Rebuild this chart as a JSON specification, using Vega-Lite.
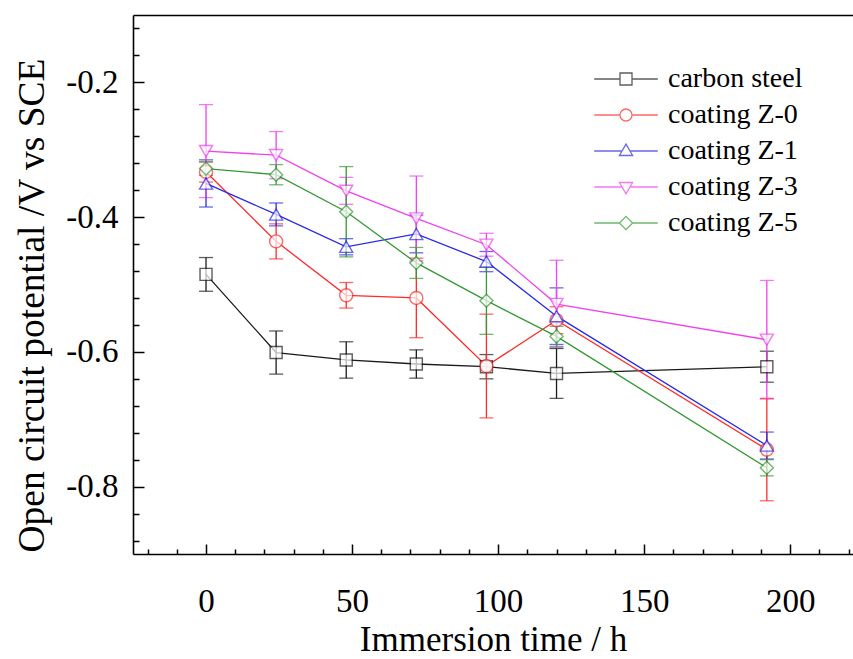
{
  "$schema": "https://vega.github.io/schema/vega-lite/v6.json",
  "width": 720,
  "height": 539,
  "autosize": {"type": "none"},
  "padding": {"left": 133, "top": 15, "right": 0, "bottom": 105},
  "background": "white",
  "config": {
    "view": {"stroke": null},
    "font": "Liberation Serif",
    "axis": {"grid": false, "domainColor": "black", "tickColor": "black", "labelColor": "black", "titleColor": "black", "domainWidth": 1.6, "tickWidth": 1.5, "labelFont": "Liberation Serif", "titleFont": "Liberation Serif", "labelFontSize": 33, "titleFontSize": 35, "titleFontWeight": "normal"}
  },
  "data": {"values": [
    {"series": "carbon steel", "t": 0, "v": -0.485, "e": 0.025},
    {"series": "carbon steel", "t": 24, "v": -0.601, "e": 0.032},
    {"series": "carbon steel", "t": 48, "v": -0.612, "e": 0.027},
    {"series": "carbon steel", "t": 72, "v": -0.618, "e": 0.021},
    {"series": "carbon steel", "t": 96, "v": -0.622, "e": 0.018},
    {"series": "carbon steel", "t": 120, "v": -0.632, "e": 0.037},
    {"series": "carbon steel", "t": 192, "v": -0.622, "e": 0.023},
    {"series": "coating Z-0", "t": 0, "v": -0.333, "e": 0.015},
    {"series": "coating Z-0", "t": 24, "v": -0.436, "e": 0.026},
    {"series": "coating Z-0", "t": 48, "v": -0.516, "e": 0.019},
    {"series": "coating Z-0", "t": 72, "v": -0.520, "e": 0.059},
    {"series": "coating Z-0", "t": 96, "v": -0.621, "e": 0.077},
    {"series": "coating Z-0", "t": 120, "v": -0.553, "e": 0.02},
    {"series": "coating Z-0", "t": 192, "v": -0.745, "e": 0.076},
    {"series": "coating Z-1", "t": 0, "v": -0.350, "e": 0.035},
    {"series": "coating Z-1", "t": 24, "v": -0.396, "e": 0.017},
    {"series": "coating Z-1", "t": 48, "v": -0.444, "e": 0.012},
    {"series": "coating Z-1", "t": 72, "v": -0.425, "e": 0.028},
    {"series": "coating Z-1", "t": 96, "v": -0.466, "e": 0.015},
    {"series": "coating Z-1", "t": 120, "v": -0.547, "e": 0.042},
    {"series": "coating Z-1", "t": 192, "v": -0.739, "e": 0.02},
    {"series": "coating Z-3", "t": 0, "v": -0.302, "e": 0.069},
    {"series": "coating Z-3", "t": 24, "v": -0.308, "e": 0.035},
    {"series": "coating Z-3", "t": 48, "v": -0.361, "e": 0.02},
    {"series": "coating Z-3", "t": 72, "v": -0.402, "e": 0.063},
    {"series": "coating Z-3", "t": 96, "v": -0.441, "e": 0.017},
    {"series": "coating Z-3", "t": 120, "v": -0.529, "e": 0.065},
    {"series": "coating Z-3", "t": 192, "v": -0.582, "e": 0.088},
    {"series": "coating Z-5", "t": 0, "v": -0.328, "e": 0.01},
    {"series": "coating Z-5", "t": 24, "v": -0.337, "e": 0.015},
    {"series": "coating Z-5", "t": 48, "v": -0.392, "e": 0.067},
    {"series": "coating Z-5", "t": 72, "v": -0.468, "e": 0.023},
    {"series": "coating Z-5", "t": 96, "v": -0.524, "e": 0.05},
    {"series": "coating Z-5", "t": 120, "v": -0.577, "e": 0.015},
    {"series": "coating Z-5", "t": 192, "v": -0.772, "e": 0.012}
  ]},
  "resolve": {"axis": {"x": "independent", "y": "independent"}},
  "layer": [
    {
      "mark": {"type": "errorbar", "ticks": {"size": 14, "thickness": 1.3}, "thickness": 1.3},
      "encoding": {
        "x": {"field": "t", "type": "quantitative", "scale": {"domain": [-25, 221.5], "nice": false, "zero": false},
              "axis": {"orient": "bottom", "values": [0, 50, 100, 150, 200], "tickSize": -10, "labelPadding": 41, "title": "Immersion time / h", "titlePadding": 4, "labelFlush": false}},
        "y": {"field": "v", "type": "quantitative", "scale": {"domain": [-0.9, -0.1], "nice": false, "zero": false},
              "axis": {"orient": "left", "values": [-0.8, -0.6, -0.4, -0.2], "tickSize": -11, "labelPadding": 26, "labelExpr": "'-' + format(abs(datum.value), '.1f')", "title": "Open circuit potential /V vs SCE", "titleFontSize": 37.5, "titlePadding": 14, "titleY": 290, "labelFlush": false}},
        "yError": {"field": "e"},
        "color": {"field": "series", "type": "nominal", "legend": null,
                  "scale": {"range": ["#1a1a1a", "#ff2a2a", "#2a2ae6", "#f040f0", "#339933"]}}
      }
    },
    {
      "mark": {"type": "line", "strokeWidth": 1.3},
      "encoding": {
        "x": {"field": "t", "type": "quantitative", "axis": {"orient": "bottom", "values": [-20, -10, 10, 20, 30, 40, 60, 70, 80, 90, 110, 120, 130, 140, 160, 170, 180, 190, 210, 220], "tickSize": -5, "labels": false, "domain": false, "title": null}},
        "y": {"field": "v", "type": "quantitative", "axis": {"orient": "left", "values": [-0.88, -0.84, -0.76, -0.72, -0.68, -0.64, -0.56, -0.52, -0.48, -0.44, -0.36, -0.32, -0.28, -0.24, -0.16, -0.12], "tickSize": -6, "labels": false, "domain": false, "title": null}},
        "color": {"field": "series", "type": "nominal", "legend": null}
      }
    },
    {
      "transform": [{"filter": {"field": "series", "equal": "carbon steel"}}],
      "mark": {"type": "point", "shape": "square", "filled": true, "fill": "white", "stroke": "#1a1a1a", "strokeWidth": 1.4, "size": 144},
      "encoding": {
        "x": {"field": "t", "type": "quantitative", "axis": {"orient": "top", "ticks": false, "labels": false, "title": null}},
        "y": {"field": "v", "type": "quantitative", "axis": null}
      }
    },
    {
      "transform": [{"filter": {"field": "series", "equal": "coating Z-0"}}],
      "mark": {"type": "point", "shape": "circle", "filled": true, "fill": "white", "stroke": "#ff2a2a", "strokeWidth": 1.4, "size": 170},
      "encoding": {
        "x": {"field": "t", "type": "quantitative", "axis": null},
        "y": {"field": "v", "type": "quantitative", "axis": null}
      }
    },
    {
      "transform": [{"filter": {"field": "series", "equal": "coating Z-1"}}],
      "mark": {"type": "point", "shape": "triangle-up", "filled": true, "fill": "white", "stroke": "#2a2ae6", "strokeWidth": 1.4, "size": 170},
      "encoding": {
        "x": {"field": "t", "type": "quantitative", "axis": null},
        "y": {"field": "v", "type": "quantitative", "axis": null}
      }
    },
    {
      "transform": [{"filter": {"field": "series", "equal": "coating Z-3"}}],
      "mark": {"type": "point", "shape": "triangle-down", "filled": true, "fill": "white", "stroke": "#f040f0", "strokeWidth": 1.4, "size": 170},
      "encoding": {
        "x": {"field": "t", "type": "quantitative", "axis": null},
        "y": {"field": "v", "type": "quantitative", "axis": null}
      }
    },
    {
      "transform": [{"filter": {"field": "series", "equal": "coating Z-5"}}],
      "mark": {"type": "point", "shape": "diamond", "filled": true, "fill": "white", "stroke": "#339933", "strokeWidth": 1.4, "size": 170},
      "encoding": {
        "x": {"field": "t", "type": "quantitative", "axis": null},
        "y": {"field": "v", "type": "quantitative", "axis": null}
      }
    },
    {
      "transform": [{"filter": {"field": "t", "lt": -1000}}],
      "mark": {"type": "point", "filled": false, "size": 144},
      "encoding": {
        "x": {"field": "t", "type": "quantitative", "axis": null},
        "y": {"field": "v", "type": "quantitative", "axis": null},
        "stroke": {"field": "series", "type": "nominal",
                  "legend": {"title": null, "orient": "top-right", "offset": 50, "padding": 0, "symbolStrokeWidth": 1.3, "symbolSize": 144, "labelFont": "Liberation Serif", "labelFontSize": 28, "labelColor": "black", "labelOffset": 28, "rowPadding": 8, "symbolFillColor": "transparent"},
                  "scale": {"domain": ["carbon steel", "coating Z-0", "coating Z-1", "coating Z-3", "coating Z-5"], "range": ["#1a1a1a", "#ff2a2a", "#2a2ae6", "#f040f0", "#339933"]}},
        "shape": {"field": "series", "type": "nominal",
                  "scale": {"domain": ["carbon steel", "coating Z-0", "coating Z-1", "coating Z-3", "coating Z-5"],
                            "range": ["M-5.3,0H-1M1,0H5.3M-1,-1H1V1H-1Z",
                                      "M-5.3,0H-1M1,0H5.3M1,0A1,1,0,1,1,-1,0A1,1,0,1,1,1,0Z",
                                      "M-5.3,0H-0.67M0.67,0H5.3M0,-1.15L1.1,0.75H-1.1Z",
                                      "M-5.3,0H-0.67M0.67,0H5.3M0,1.15L1.1,-0.75H-1.1Z",
                                      "M-5.3,0H-1.1M1.1,0H5.3M0,-1.1L1.1,0L0,1.1L-1.1,0Z"]},
                  "legend": {"title": null, "orient": "top-right", "offset": 50, "padding": 0, "symbolStrokeWidth": 1.3, "symbolSize": 144, "labelFont": "Liberation Serif", "labelFontSize": 28, "labelColor": "black", "labelOffset": 28, "rowPadding": 8, "symbolFillColor": "transparent"}}
      }
    }
  ]
}
